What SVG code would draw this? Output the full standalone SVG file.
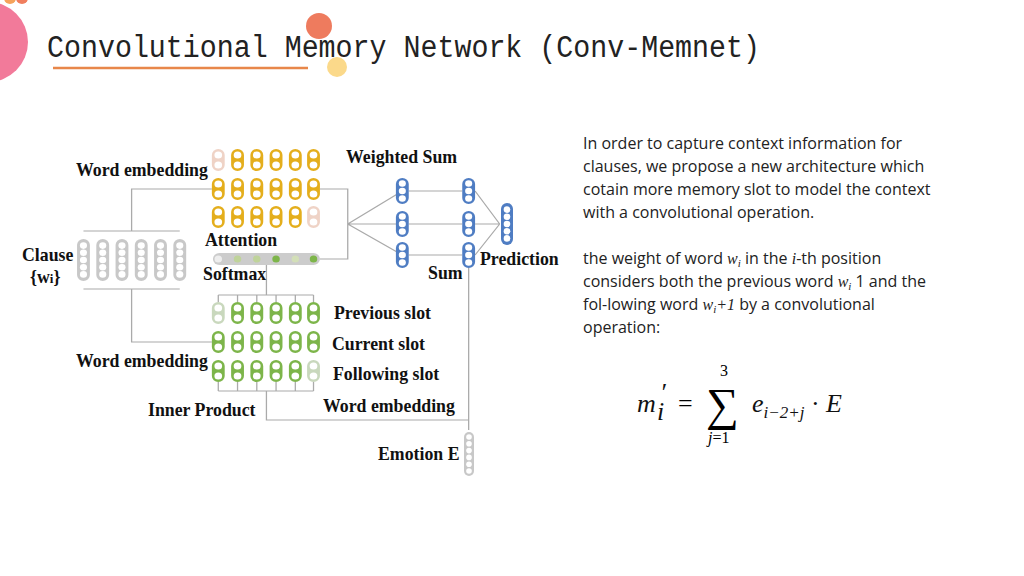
<svg xmlns="http://www.w3.org/2000/svg" width="1024" height="576" viewBox="0 0 1024 576">
<style>
.lb{font-family:"Liberation Serif",serif;font-weight:bold;font-size:17.8px;fill:#111}
.tx{font-family:"Open Sans","Noto Sans",sans-serif;font-size:16px;fill:#222}
.ln{stroke:#aaa;stroke-width:1.2;fill:none}
.y{fill:#E4AE1C}.yf{fill:#EFD3C6}.g{fill:#7DB54A}.gf{fill:#C9D8BD}.b{fill:#4F7DC3}.c{fill:#c8c8c8}
.dot{fill:#fff}
.m{font-family:"Liberation Serif",serif;font-style:italic;font-size:26px;fill:#111}
</style>
<defs>
<g id="c2"><rect x="-6" y="-11" width="12" height="22" rx="6"/><circle cx="0" cy="-5" r="3.6" class="dot"/><circle cx="0" cy="5" r="3.6" class="dot"/></g>
<g id="c3"><rect x="-6" y="-13" width="12" height="26" rx="6"/><circle cx="0" cy="-7.5" r="3.3" class="dot"/><circle cx="0" cy="0" r="3.3" class="dot"/><circle cx="0" cy="7.5" r="3.3" class="dot"/></g>
<g id="c5"><rect x="-6" y="-21" width="12" height="42" rx="6"/><circle cx="0" cy="-14.4" r="3.3" class="dot"/><circle cx="0" cy="-7.2" r="3.3" class="dot"/><circle cx="0" cy="0" r="3.3" class="dot"/><circle cx="0" cy="7.2" r="3.3" class="dot"/><circle cx="0" cy="14.4" r="3.3" class="dot"/></g>
<g id="c6"><rect x="-5" y="-22" width="10" height="44" rx="5"/><circle cx="0" cy="-17" r="2.8" class="dot"/><circle cx="0" cy="-10.2" r="2.8" class="dot"/><circle cx="0" cy="-3.4" r="2.8" class="dot"/><circle cx="0" cy="3.4" r="2.8" class="dot"/><circle cx="0" cy="10.2" r="2.8" class="dot"/><circle cx="0" cy="17" r="2.8" class="dot"/></g>
</defs>
<g id="decor">
<circle cx="-12" cy="42" r="40" fill="#F27A9A"/>
<circle cx="10" cy="-2" r="6" fill="#F5A35C"/><circle cx="22" cy="-2" r="6" fill="#F07E5E"/>
<circle cx="319" cy="26" r="13" fill="#EE7B5E"/>
<circle cx="337" cy="67" r="10" fill="#FBD98A"/>
<line x1="53" y1="68" x2="308" y2="68" stroke="#E8874A" stroke-width="2.5"/>
<text x="47" y="57" font-family="Liberation Mono,monospace" font-size="31" fill="#222" textLength="713" lengthAdjust="spacingAndGlyphs">Convolutional Memory Network (Conv-Memnet)</text>
</g>
<g id="connectors" class="ln" transform="matrix(1.07 0 0 1 0 0)">
<path d="M78 231H168M78 289H168M123 231V189H198M123 289V342H198"/>
<path d="M299 189H325V259H299M325 224L376 191M325 224H376M325 224L376 255"/>
<path d="M382 191H432M382 224H432M382 255H432M444 191L467 224M444 224H467M444 255L467 224"/>
<path d="M249 265V295M204 295H293M204 295V302M222 295V302M240 295V302M258 295V302M276 295V302M293 295V302"/>
<path d="M204 382V391M222 382V391M240 382V391M258 382V391M276 382V391M293 382V391M204 391H293M249 391V420H438M438 268V430"/>
</g>
<g id="clause">
<g class="c" transform="matrix(1.07 0 0 1 0 0)"><use href="#c5" x="78" y="260"/><use href="#c5" x="96" y="260"/><use href="#c5" x="114" y="260"/><use href="#c5" x="132" y="260"/><use href="#c5" x="150" y="260"/><use href="#c5" x="168" y="260"/></g>
<text class="lb" x="22" y="261">Clause</text><text class="lb" x="30" y="283">{w<tspan font-size="13">i</tspan>}</text>
</g>
<g id="word-embedding-top">
<g transform="matrix(1.07 0 0 1 0 0)">
<use href="#c2" x="204" y="160" class="yf"/><g class="y"><use href="#c2" x="222" y="160"/><use href="#c2" x="240" y="160"/><use href="#c2" x="258" y="160"/><use href="#c2" x="276" y="160"/><use href="#c2" x="293" y="160"/>
<use href="#c2" x="204" y="189"/><use href="#c2" x="222" y="189"/><use href="#c2" x="240" y="189"/><use href="#c2" x="258" y="189"/><use href="#c2" x="276" y="189"/><use href="#c2" x="293" y="189"/>
<use href="#c2" x="204" y="217"/><use href="#c2" x="222" y="217"/><use href="#c2" x="240" y="217"/><use href="#c2" x="258" y="217"/><use href="#c2" x="276" y="217"/></g><use href="#c2" x="293" y="217" class="yf"/>
</g>
<text class="lb" x="76" y="176">Word embedding</text>
</g>
<g id="attention">
<g transform="matrix(1.07 0 0 1 0 0)">
<rect x="199" y="253" width="100" height="12" rx="6" fill="#ccc"/>
<circle cx="204" cy="259" r="3.5" fill="#eee"/><circle cx="222" cy="259" r="3.5" fill="#BFD39A"/><circle cx="240" cy="259" r="3.5" fill="#BFD39A"/><circle cx="258" cy="259" r="3.5" fill="#7DB54A"/><circle cx="276" cy="259" r="3.5" fill="#D3DFB8"/><circle cx="293" cy="259" r="3.5" fill="#7DB54A"/>
</g>
<text class="lb" x="205" y="246">Attention</text><text class="lb" x="203" y="280">Softmax</text>
</g>
<g id="weighted-sum">
<g class="b" transform="matrix(1.07 0 0 1 0 0)"><use href="#c3" x="376" y="191"/><use href="#c3" x="376" y="224"/><use href="#c3" x="376" y="255"/><use href="#c3" x="438" y="191"/><use href="#c3" x="438" y="224"/><use href="#c3" x="438" y="255"/></g>
<text class="lb" x="346" y="163">Weighted Sum</text><text class="lb" x="428" y="279">Sum</text>
</g>
<g id="prediction"><use href="#c5" x="507" y="224" class="b"/><text class="lb" x="480" y="265">Prediction</text></g>
<g id="slots">
<g transform="matrix(1.07 0 0 1 0 0)">
<use href="#c2" x="204" y="313" class="gf"/><g class="g"><use href="#c2" x="222" y="313"/><use href="#c2" x="240" y="313"/><use href="#c2" x="258" y="313"/><use href="#c2" x="276" y="313"/><use href="#c2" x="293" y="313"/>
<use href="#c2" x="204" y="342"/><use href="#c2" x="222" y="342"/><use href="#c2" x="240" y="342"/><use href="#c2" x="258" y="342"/><use href="#c2" x="276" y="342"/><use href="#c2" x="293" y="342"/>
<use href="#c2" x="204" y="371"/><use href="#c2" x="222" y="371"/><use href="#c2" x="240" y="371"/><use href="#c2" x="258" y="371"/><use href="#c2" x="276" y="371"/></g><use href="#c2" x="293" y="371" class="gf"/>
</g>
<text class="lb" x="334" y="319">Previous slot</text><text class="lb" x="332" y="350">Current slot</text><text class="lb" x="333" y="380">Following slot</text>
<text class="lb" x="76" y="367">Word embedding</text><text class="lb" x="148" y="416">Inner Product</text><text class="lb" x="323" y="412">Word embedding</text>
</g>
<g id="emotion"><use href="#c6" x="469" y="454" class="c"/><text class="lb" x="378" y="460">Emotion E</text></g>
<g id="text">
<text class="tx" x="583" y="149">In order to capture context information for</text>
<text class="tx" x="583" y="172">clauses, we propose a new architecture which</text>
<text class="tx" x="583" y="195">cotain more memory slot to model the context</text>
<text class="tx" x="583" y="218">with a convolutional operation.</text>
<text class="tx" x="583" y="264">the weight of word <tspan font-family="Liberation Serif" font-style="italic">w<tspan font-size="11" dy="3">i</tspan></tspan><tspan dy="-3"> in the </tspan><tspan font-family="Liberation Serif" font-style="italic">i</tspan>-th position</text>
<text class="tx" x="583" y="287">considers both the previous word <tspan font-family="Liberation Serif" font-style="italic">w<tspan font-size="11" dy="3">i</tspan></tspan><tspan dy="-3"> 1 and the</tspan></text>
<text class="tx" x="583" y="310">fol-lowing word <tspan font-family="Liberation Serif" font-style="italic">w<tspan font-size="11" dy="3">i</tspan><tspan dy="-3">+1</tspan></tspan> by a convolutional</text>
<text class="tx" x="583" y="333">operation:</text>
<text class="m" x="637" y="412">m</text>
<text class="m" x="660" y="401" font-style="normal" font-size="20">′</text>
<text class="m" x="657" y="420" font-size="16">i</text>
<text x="678" y="412" font-family="Liberation Serif,serif" font-size="26">=</text>
<text x="706" y="420" font-family="Liberation Serif,serif" font-size="46">∑</text>
<text x="720" y="376" font-family="Liberation Serif,serif" font-size="16">3</text>
<text x="708" y="443" font-family="Liberation Serif,serif" font-style="italic" font-size="16">j<tspan font-style="normal">=1</tspan></text>
<text class="m" x="752" y="412">e<tspan font-size="17" dy="6">i−2+j</tspan><tspan dy="-6" font-style="normal"> · </tspan>E</text>
</g>
</svg>
